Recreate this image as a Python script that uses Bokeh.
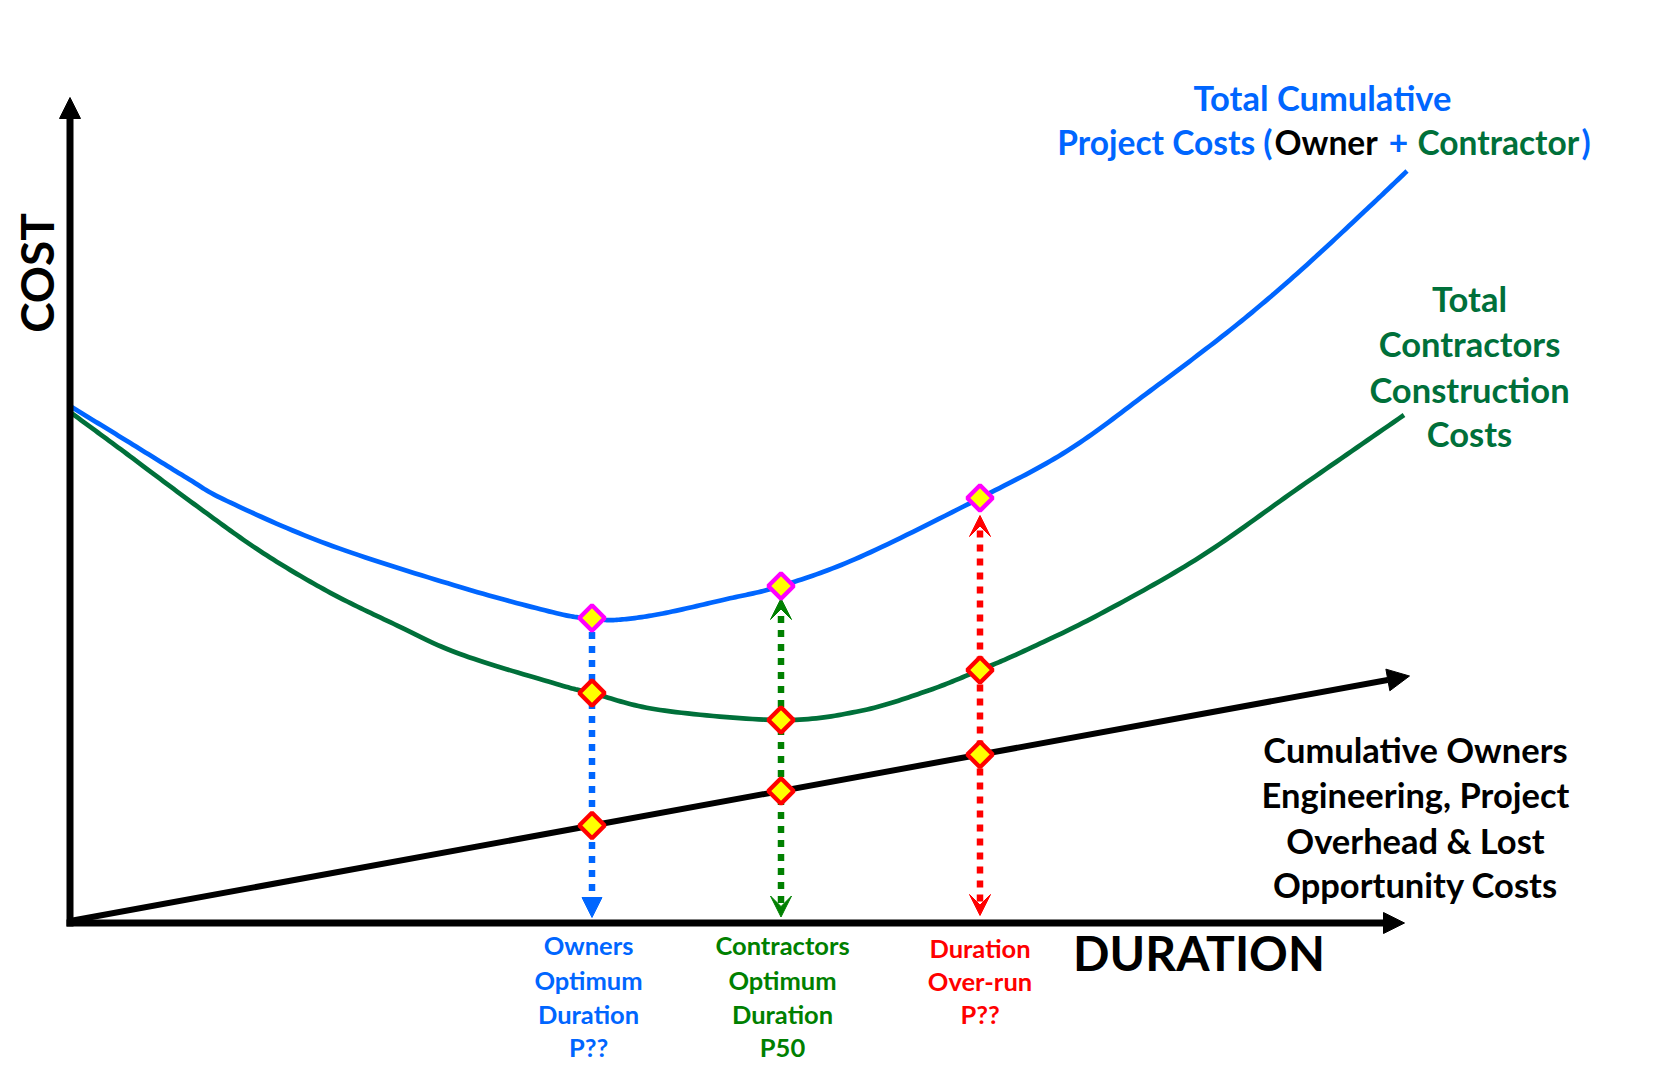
import numpy as np
from bokeh.plotting import figure
from bokeh.models import Range1d, Arrow, NormalHead, VeeHead
from bokeh.core.properties import value
from bokeh.embed import file_html
from bokeh.resources import INLINE

# Total cumulative project cost (owner + contractor) along the duration axis
total_duration = [0, 57, 117, 157, 257, 390, 490, 522, 545, 590, 657, 711, 790, 910, 997, 1080, 1164, 1230, 1297, 1337]
total_cost = [517, 482, 445, 422, 379, 336, 309, 305, 303, 309, 324, 337, 366, 425, 472, 532, 596, 652, 714, 752]

# Total contractor construction cost
contractor_duration = [0, 57, 124, 190, 257, 324, 390, 490, 522, 590, 711, 790, 857, 910, 954, 1030, 1130, 1230, 1334]
contractor_cost = [511, 469, 419, 372, 332, 299, 269, 238, 230, 213, 203, 212, 232, 253, 272, 309, 366, 436, 508]

# Cumulative owner cost: a straight line from the origin
owner_duration = [0, 1339.5]
owner_cost = [2, 247]

# Durations that are marked on the curves
milestone_duration = [522, 711, 910]
milestone_labels = [
    ["Owners", "Optimum", "Duration", "P??"],
    ["Contractors", "Optimum", "Duration", "P50"],
    ["Duration", "Over-run", "P??"],
]

title_lines = ["Total Cumulative"]
contractor_label = ["Total", "Contractors", "Construction", "Costs"]
owner_label = ["Cumulative Owners", "Engineering, Project", "Overhead & Lost", "Opportunity Costs"]

BLUE = "#0066FF"
GREEN = "#00703A"
DOT_GREEN = "#008000"
RED = "#FF0000"
MAGENTA = "#FF00FF"
FONT = value("Lato")

W, H = 1655, 1075
X0, Y0 = 69.5, 922.5  # screen position of the origin

p = figure(width=W, height=H, x_range=Range1d(-X0, W - X0), y_range=Range1d(Y0 - H, Y0),
           output_backend="svg", toolbar_location=None, min_border=0,
           x_axis_location=None, y_axis_location=None)
p.grid.visible = False
p.outline_line_color = None
p.background_fill_color = "white"
p.border_fill_color = "white"


def smooth(xs, ys, n=20):
    """Catmull-Rom path through the given points."""
    pts = np.column_stack([xs, ys]).astype(float)
    pts = np.vstack([2 * pts[0] - pts[1], pts, 2 * pts[-1] - pts[-2]])
    t = np.linspace(0, 1, n, endpoint=False)[:, None]
    out = []
    for i in range(1, len(pts) - 2):
        p0, p1, p2, p3 = pts[i - 1], pts[i], pts[i + 1], pts[i + 2]
        out.append(0.5 * (2 * p1 + (-p0 + p2) * t + (2 * p0 - 5 * p1 + 4 * p2 - p3) * t ** 2
                          + (-p0 + 3 * p1 - 3 * p2 + p3) * t ** 3))
    out.append(pts[-2][None, :])
    arr = np.vstack(out)
    return arr[:, 0], arr[:, 1]


# curves
bx, by = smooth(total_duration, total_cost)
p.line(bx, by, line_width=4.7, line_color=BLUE, line_join="round")
gx, gy = smooth(contractor_duration, contractor_cost)
p.line(gx, gy, line_width=4.7, line_color=GREEN, line_join="round")

# axes drawn as arrows
p.add_layout(Arrow(end=NormalHead(size=21, fill_color="black", line_color="black"),
                   x_start=0, y_start=-3.5, x_end=0, y_end=825.5, line_width=7, line_color="black"))
p.add_layout(Arrow(end=NormalHead(size=21, fill_color="black", line_color="black"),
                   x_start=-3.5, y_start=0, x_end=1334.5, y_end=0, line_width=7, line_color="black"))
# owner cost line
p.add_layout(Arrow(end=NormalHead(size=22, fill_color="black", line_color="black"),
                   x_start=owner_duration[0], y_start=owner_cost[0],
                   x_end=owner_duration[1], y_end=owner_cost[1], line_width=6, line_color="black"))

# marker values on each curve
total_at = np.interp(milestone_duration, total_duration, total_cost)
contractor_at = np.interp(milestone_duration, contractor_duration, contractor_cost)
owner_at = np.interp(milestone_duration, owner_duration, owner_cost)

# dotted drop / rise lines
dot = dict(line_width=6.5, line_dash="7 7", line_cap="butt")
p.add_layout(Arrow(end=NormalHead(size=20, fill_color=BLUE, line_color=BLUE),
                   x_start=milestone_duration[0], y_start=total_at[0],
                   x_end=milestone_duration[0], y_end=5.5, line_color=BLUE, **dot))
p.add_layout(Arrow(start=VeeHead(size=21, fill_color=DOT_GREEN, line_color=DOT_GREEN),
                   end=VeeHead(size=21, fill_color=DOT_GREEN, line_color=DOT_GREEN),
                   x_start=milestone_duration[1], y_start=6,
                   x_end=milestone_duration[1], y_end=total_at[1] - 12.5, line_color=DOT_GREEN, **dot))
p.add_layout(Arrow(start=VeeHead(size=21, fill_color=RED, line_color=RED),
                   end=VeeHead(size=21, fill_color=RED, line_color=RED),
                   x_start=milestone_duration[2], y_start=7.5,
                   x_end=milestone_duration[2], y_end=total_at[2] - 17.5, line_color=RED, **dot))

# diamond markers
mk = dict(marker="square", angle=np.pi / 4, size=18, fill_color="yellow", line_width=4.3, level="overlay")
p.scatter(milestone_duration, total_at, line_color=MAGENTA, **mk)
p.scatter(milestone_duration, contractor_at, line_color=RED, **mk)
p.scatter(milestone_duration, owner_at, line_color=RED, **mk)

txt = dict(text_font=FONT, text_font_style="bold", text_baseline="alphabetic")

# axis titles
p.text(x=[-33.5], y=[650], text=["COST"], angle=np.pi / 2, text_align="center",
       text_font_size="46px", text_color="black", **txt)
p.text(x=[1129], y=[-29], text=["DURATION"], text_align="center",
       text_font_size="48px", text_color="black", **txt)

# total cost title, second line in several colours
big = dict(text_font_size="34.5px", **txt)
mixed = dict(text_font_size="33.5px", **txt)
p.text(x=[1252.5], y=[825.8], text=title_lines, text_align="center", text_color=BLUE, **big)
p.text(x=[1202.5], y=[780.8], text=["Project Costs ("], text_align="right", text_color=BLUE, **mixed)
p.text(x=[1204.5], y=[780.8], text=["Owner"], text_align="left", text_color="black", **mixed)
p.text(x=[1328.5], y=[780.8], text=["+"], text_align="center", text_color=BLUE, **mixed)
p.text(x=[1347.5], y=[780.8], text=["Contractor"], text_align="left", text_color=GREEN, **mixed)
p.text(x=[1511.5], y=[780.8], text=[")"], text_align="left", text_color=BLUE, **mixed)

# contractor curve label
p.text(x=[1399.5] * 4, y=[624.5, 579.8, 533.8, 489.8], text=contractor_label,
       text_align="center", text_color=GREEN, **big)
# owner line label
p.text(x=[1345.5] * 4, y=[173.5, 128.1, 82.7, 38.7], text=owner_label,
       text_align="center", text_color="black", **big)

# labels below the duration axis
small = dict(text_font_size="25.5px", text_align="center", **txt)
colors = [BLUE, DOT_GREEN, RED]
label_shift = [-3.5, 1.5, 0]
baselines = [[-21.9, -56.5, -90.6, -124.1], [-21.9, -56.5, -90.6, -124.1], [-24.7, -57.9, -91.3]]
for d, dx, lines, col, ys in zip(milestone_duration, label_shift, milestone_labels, colors, baselines):
    p.text(x=[d + dx] * len(lines), y=ys, text=lines, text_color=col, **small)

open("out.html", "w").write(file_html(p, INLINE))
